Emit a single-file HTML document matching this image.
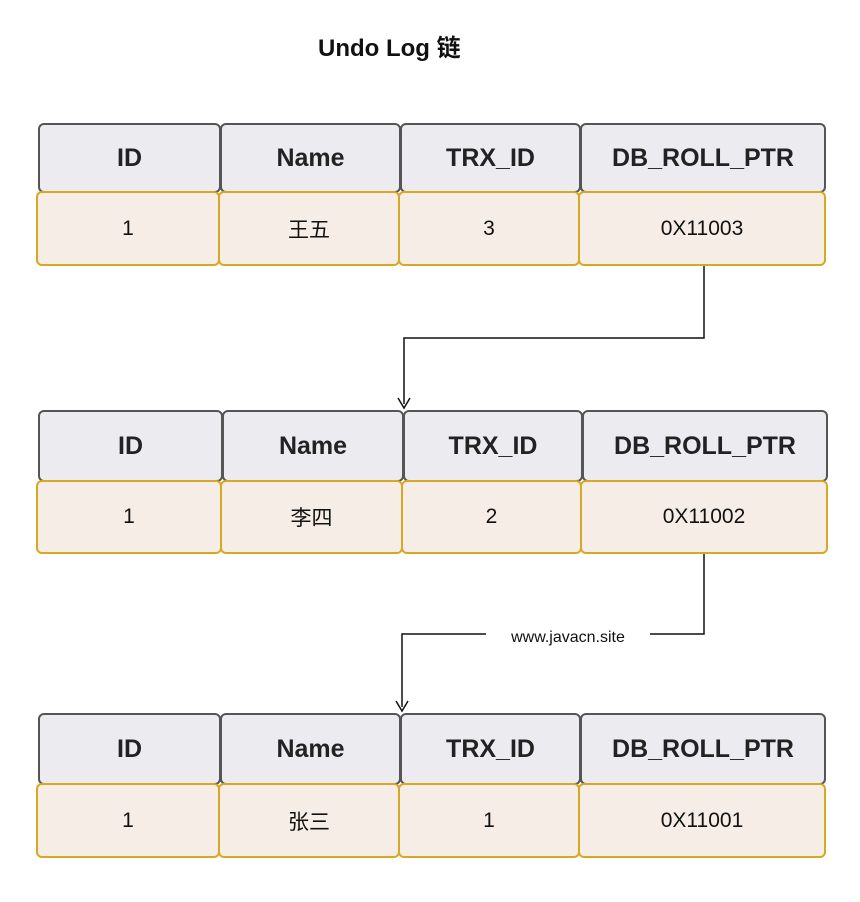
<!DOCTYPE html>
<html><head><meta charset="utf-8"><style>
body{margin:0;background:#fff;width:860px;height:902px;overflow:hidden;position:relative;font-family:"Comic Sans MS","Liberation Sans","Noto Sans CJK SC",sans-serif}
.c{position:absolute;box-sizing:border-box;display:flex;align-items:center;justify-content:center;border-radius:6px}
.h{background:#ececf0;border:2px solid #555;font-weight:bold;font-size:25px;color:#222}
.d{background:#f6eee6;border:2px solid #d9a823;font-size:21px;color:#111}
.t{position:absolute;left:318px;top:28px;font-weight:bold;font-size:24px;color:#111}
</style></head><body>
<div class="t">Undo Log 链</div>

<div class="c h" style="left:38px;top:123px;width:183px;height:70px">ID</div>
<div class="c h" style="left:220px;top:123px;width:181px;height:70px">Name</div>
<div class="c h" style="left:400px;top:123px;width:181px;height:70px">TRX_ID</div>
<div class="c h" style="left:580px;top:123px;width:246px;height:70px">DB_ROLL_PTR</div>
<div class="c d" style="left:36px;top:191px;width:184px;height:75px">1</div>
<div class="c d" style="left:218px;top:191px;width:182px;height:75px">王五</div>
<div class="c d" style="left:398px;top:191px;width:182px;height:75px">3</div>
<div class="c d" style="left:578px;top:191px;width:248px;height:75px">0X11003</div>

<div class="c h" style="left:38px;top:410px;width:185px;height:72px">ID</div>
<div class="c h" style="left:222px;top:410px;width:182px;height:72px">Name</div>
<div class="c h" style="left:403px;top:410px;width:180px;height:72px">TRX_ID</div>
<div class="c h" style="left:582px;top:410px;width:246px;height:72px">DB_ROLL_PTR</div>
<div class="c d" style="left:36px;top:480px;width:186px;height:74px">1</div>
<div class="c d" style="left:220px;top:480px;width:183px;height:74px">李四</div>
<div class="c d" style="left:401px;top:480px;width:181px;height:74px">2</div>
<div class="c d" style="left:580px;top:480px;width:248px;height:74px">0X11002</div>

<div class="c h" style="left:38px;top:713px;width:183px;height:72px">ID</div>
<div class="c h" style="left:220px;top:713px;width:181px;height:72px">Name</div>
<div class="c h" style="left:400px;top:713px;width:181px;height:72px">TRX_ID</div>
<div class="c h" style="left:580px;top:713px;width:246px;height:72px">DB_ROLL_PTR</div>
<div class="c d" style="left:36px;top:783px;width:184px;height:75px">1</div>
<div class="c d" style="left:218px;top:783px;width:182px;height:75px">张三</div>
<div class="c d" style="left:398px;top:783px;width:182px;height:75px">1</div>
<div class="c d" style="left:578px;top:783px;width:248px;height:75px">0X11001</div>

<svg width="860" height="902" style="position:absolute;left:0;top:0">
<g fill="none" stroke="#111" stroke-width="1.5">
<path d="M704 266 V338 H404 V404"/>
<path d="M398 398 L404 408 L410 398"/>
<path d="M704 554 V634 H402 V707"/>
<path d="M396 701 L402 711 L408 701"/>
</g>
<rect x="486" y="626" width="164" height="20" fill="#fff"/>
<text x="568" y="642" text-anchor="middle" font-family="Liberation Sans,sans-serif" font-size="16" fill="#111">www.javacn.site</text>
</svg>
</body></html>
